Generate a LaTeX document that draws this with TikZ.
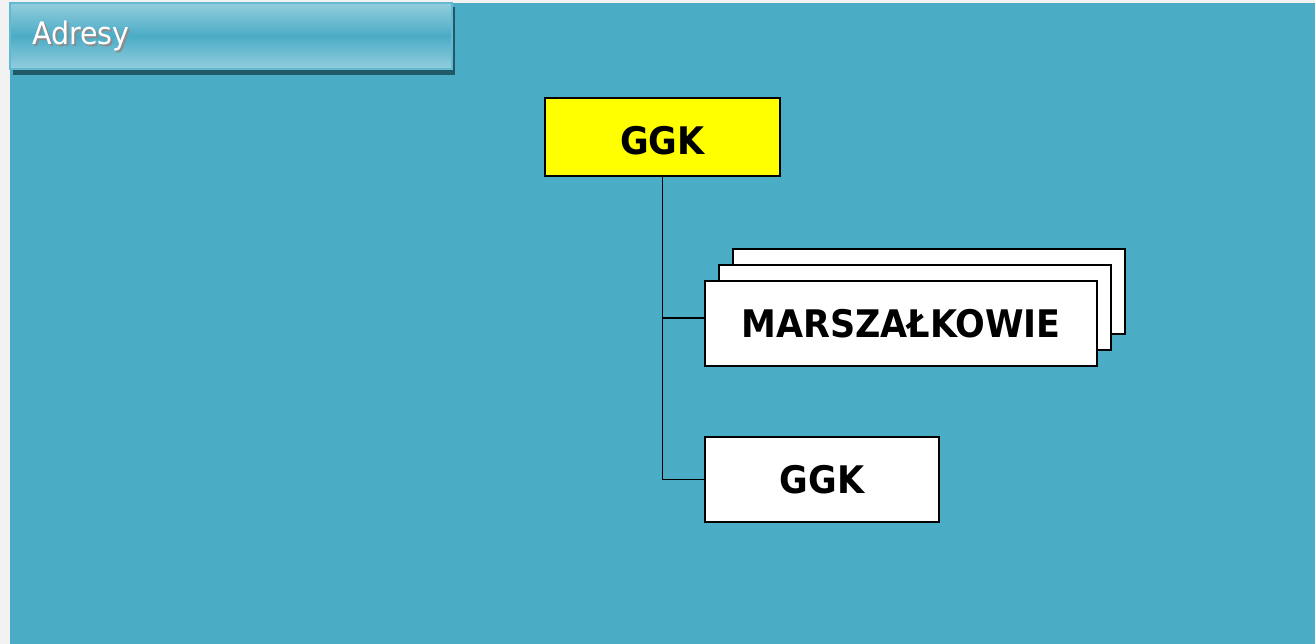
\documentclass[tikz,border=0pt]{standalone}
\usepackage{fontspec}
\setmainfont{DejaVu Sans}[FakeStretch=0.92]
\definecolor{pagegray}{HTML}{F2F2F2}
\definecolor{aqua}{HTML}{4BACC6}
\definecolor{titlelight}{HTML}{93CDDD}
\definecolor{titleedge}{HTML}{62B9D0}
\definecolor{titledark}{HTML}{215968}
\definecolor{textshade}{HTML}{8C8C8C}
\definecolor{headyellow}{HTML}{FFFF00}

\begin{document}
\begin{tikzpicture}
    [ x=1bp, y=-1bp,
      font={\fontsize{38bp}{40bp}\bfseries\selectfont},
      page/.style={fill=pagegray},
      slide/.style={fill=aqua},
      titlebar/.style={draw=titleedge, line width=1.2bp,
                       top color=titlelight, bottom color=titlelight,
                       middle color=aqua},
      titleshade/.style={fill=titledark},
      titletext/.style={anchor=base west, inner sep=0pt,
                        font={\fontsize{31bp}{33bp}\selectfont}},
      card/.style={draw, fill=white, line width=2bp, inner sep=0pt,
                   minimum height=85bp},
      head/.style={card, fill=headyellow, minimum height=78bp,
                   text height=36.5bp},
      link/.style={line width=1.8bp}
    ]
    \useasboundingbox (0, 0) rectangle (1315, 644);

    % Page and slide
    \path[page] (0, 0) rectangle (1315, 644);
    \path[slide] (10, 3) rectangle (1315, 644);

    % Title bar
    \path[titleshade] (13, 7) rectangle (455, 75);
    \path[titlebar] (10, 3) rectangle (452, 69);
    \node[titletext, textshade] (titleshadow) at (34, 47) {Adresy};
    \node[titletext, white] (title) at (32, 45) {Adresy};

    % Boxes
    \node[head, minimum width=235bp] (ggktop) at (662.5, 137) {GGK};
    \foreach \k in {2, 1} {
        \node[card, minimum width=392bp, shift={(\k * 14, -\k * 16)}]
            (marsz\k) at (901, 323.5) {};
    }
    \node[card, minimum width=392bp] (marsz) at (901, 323.5) {MARSZAŁKOWIE};
    \node[card, minimum width=234bp] (ggkbot) at (822, 479.5) {GGK};

    % Connectors
    \draw[link] (ggktop.south) |- ([yshift=5.5bp]marsz.west);
    \draw[link] (ggktop.south) |- (ggkbot.west);

\end{tikzpicture}
\end{document}
